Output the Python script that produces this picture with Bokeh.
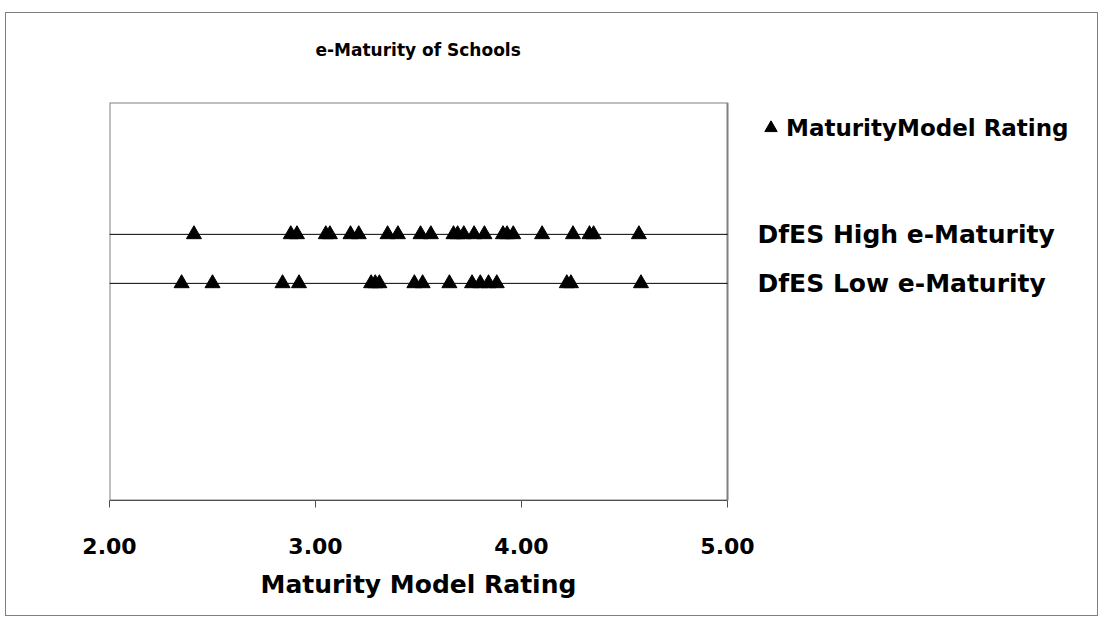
from bokeh.plotting import figure
from bokeh.models import (Range1d, FixedTicker, Legend, LegendItem, ColumnDataSource,
                          BoxAnnotation, LabelSet, Title)
from bokeh.core.properties import value
from bokeh.embed import file_html
from bokeh.resources import INLINE

# ---- data ----
categories = ["DfES Low e-Maturity", "DfES High e-Maturity"]
category_levels = [1, 2]
high_ratings = [2.41, 2.88, 2.91, 3.05, 3.07, 3.17, 3.21, 3.35, 3.40, 3.51, 3.56,
                3.67, 3.69, 3.72, 3.77, 3.82, 3.91, 3.93, 3.96, 4.10, 4.25, 4.33,
                4.35, 4.57]
low_ratings = [2.35, 2.50, 2.84, 2.92, 3.27, 3.29, 3.31, 3.48, 3.52, 3.65, 3.76,
               3.80, 3.84, 3.88, 4.22, 4.24, 4.58]
x_ticks = [2, 3, 4, 5]
x_tick_labels = ["2.00", "3.00", "4.00", "5.00"]
series_name = "MaturityModel Rating"
title_text = "e-Maturity of Schools"
x_title = "Maturity Model Rating"

FONT = "DejaVu Sans"
x_min, x_max = x_ticks[0], x_ticks[-1]

xs = high_ratings + low_ratings
ys = [category_levels[1]] * len(high_ratings) + [category_levels[0]] * len(low_ratings)
src = ColumnDataSource(dict(x=xs, y=ys))

p = figure(width=1093, height=604, output_backend="svg", toolbar_location=None,
           x_range=Range1d(x_min, 6.767), y_range=Range1d(-3.43, 4.69),
           min_border_left=103, min_border_right=8, min_border_top=89,
           min_border_bottom=117, title=None)
p.styles = {"border": "1px solid #808080", "margin-left": "5px", "margin-top": "12px"}

p.outline_line_color = None
p.background_fill_color = "white"
p.border_fill_color = "white"

# plot-area box (gray) spanning the value axis only
p.add_layout(BoxAnnotation(left=x_min, right=x_max, fill_color=None, fill_alpha=0,
                           line_color="#808080", line_alpha=1.0, line_width=2,
                           level="underlay"))

# left axis hidden
p.yaxis.visible = False

# bottom axis
xa = p.xaxis[0]
xa.bounds = (x_min, x_max)
xa.ticker = FixedTicker(ticks=x_ticks)
xa.major_label_overrides = {t: l for t, l in zip(x_ticks, x_tick_labels)}
xa.axis_line_color = "#505050"
xa.axis_line_width = 1
xa.major_tick_line_color = "#505050"
xa.major_tick_out = 7
xa.major_tick_in = 0
xa.minor_tick_line_color = None
xa.major_label_text_font = FONT
xa.major_label_text_font_style = "bold"
xa.major_label_text_font_size = "22px"
xa.major_label_text_color = "black"
xa.major_label_standoff = 30

# axis title, centred under the value axis
xt = Title(text=x_title, align="left", offset=151, text_font=FONT,
           text_font_style="bold", text_font_size="25px", text_color="black",
           standoff=22)
p.add_layout(xt, "below")

# grid off; category lines drawn across the value axis
p.xgrid.visible = False
p.ygrid.visible = False
p.segment(x0=[x_min] * len(category_levels), x1=[x_max] * len(category_levels),
          y0=category_levels, y1=category_levels, line_color="black", line_width=1)

# category labels to the right of the plot area
lab_src = ColumnDataSource(dict(x=[x_max] * len(categories), y=category_levels,
                                text=categories))
p.add_layout(LabelSet(x="x", y="y", text="text", source=lab_src, x_offset=30,
                      text_font=value(FONT), text_font_style="bold",
                      text_font_size="25px", text_color="black",
                      text_baseline="middle"))

r = p.scatter("x", "y", source=src, marker="triangle", size=15,
              fill_color="black", line_color="black")

legend = Legend(items=[LegendItem(label=series_name, renderers=[r])],
                location=(646, 357), border_line_color=None,
                background_fill_alpha=0, label_text_font=FONT,
                label_text_font_style="bold", label_text_font_size="23px",
                label_text_color="black",
                glyph_width=31, glyph_height=31, label_standoff=0,
                padding=4, margin=0)
p.add_layout(legend, "center")

# spacer between the plot area and the chart title
spacer = Title(text=" ", text_font_size="1px", standoff=40)
p.add_layout(spacer, "above")

# chart title
t = Title(text=title_text, align="left", offset=206, text_font=FONT,
          text_font_style="bold", text_font_size="17px", text_color="black",
          standoff=0)
p.add_layout(t, "above")

open("out.html", "w").write(file_html(p, INLINE))
